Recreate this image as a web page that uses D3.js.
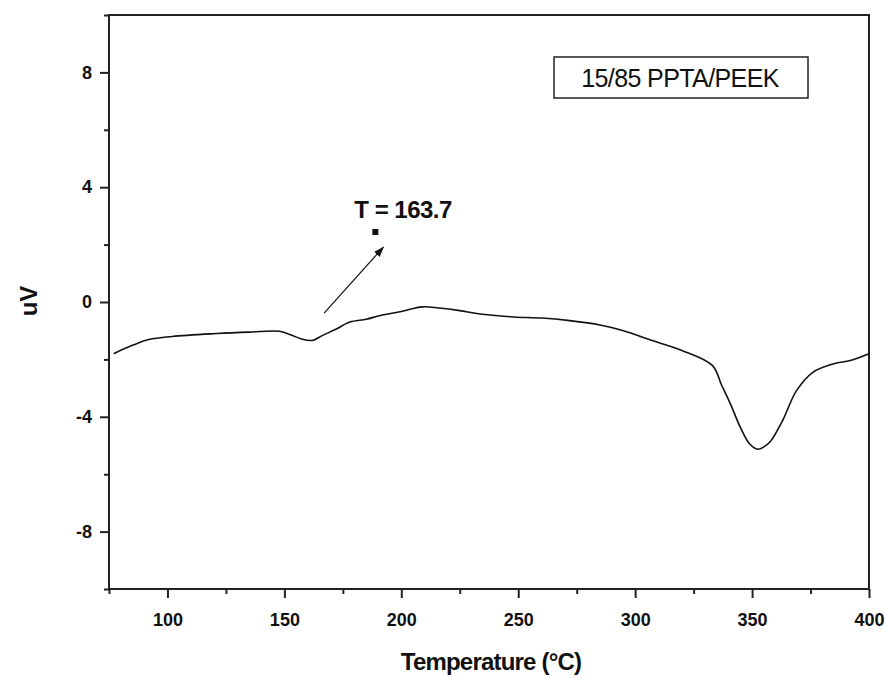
<!DOCTYPE html>
<html>
<head>
<meta charset="utf-8">
<script src="https://cdn.jsdelivr.net/npm/d3@7"></script>
<style>
  body { margin: 0; background: #fff; }
  svg { display: block; font-family: Arial, "Liberation Sans", sans-serif; }
</style>
</head>
<body>
<div id="chart"></div>
<script>
// DSC trace, 15/85 PPTA/PEEK
var temps = [77, 85, 92, 102, 121, 135, 148, 153, 157, 162, 166, 172, 178, 185, 191, 200, 209, 216, 225, 233, 248, 260, 272, 285, 295, 306, 320, 333, 337, 341, 345, 349, 352.5, 355, 358, 363, 369, 376, 385, 392, 400];
var uv = [-1.80, -1.51, -1.31, -1.20, -1.10, -1.05, -1.02, -1.15, -1.28, -1.34, -1.18, -0.95, -0.70, -0.60, -0.47, -0.33, -0.17, -0.21, -0.30, -0.41, -0.52, -0.56, -0.65, -0.80, -1.00, -1.31, -1.69, -2.21, -2.90, -3.60, -4.37, -4.95, -5.13, -5.05, -4.84, -4.14, -3.09, -2.45, -2.15, -2.04, -1.80];

var xMajorTicks = [100, 150, 200, 250, 300, 350, 400];
var xMinorTicks = [75, 125, 175, 225, 275, 325, 375];
var yMajorTicks = [8, 4, 0, -4, -8];
var yMinorTicks = [10, 6, 2, -2, -6, -10];

var legendText = "15/85 PPTA/PEEK";
var annotText = "T = 163.7";
var annotDot = [188.9, 2.44];
var annotArrow = [[167, -0.39], [192.3, 1.91]];

var svgWidth = 886;
var svgHeight = 678;
var margin = { top: 15, right: 17, bottom: 89, left: 109 };
var width = svgWidth - margin.left - margin.right;
var height = svgHeight - margin.top - margin.bottom;

var svg = d3.select("#chart")
    .append("svg")
    .attr("width", svgWidth)
    .attr("height", svgHeight);

var chartGroup = svg.append("g")
    .attr("transform", `translate(${margin.left}, ${margin.top})`);

var x = d3.scaleLinear().domain([75, 400]).range([0, width]);
var y = d3.scaleLinear().domain([-10, 10]).range([height, 0]);

// frame
chartGroup.append("rect")
    .attr("width", width)
    .attr("height", height)
    .attr("fill", "none")
    .attr("stroke", "#222")
    .attr("stroke-width", 2);

// axes
function styleAxis(g) {
    g.select(".domain").remove();
    g.selectAll(".tick line").attr("stroke", "#222").attr("stroke-width", 2);
    g.selectAll(".tick text")
        .attr("fill", "#111")
        .attr("font-weight", "bold")
        .attr("font-size", "18px");
}

chartGroup.append("g")
    .attr("transform", `translate(0, ${height})`)
    .call(d3.axisBottom(x).tickValues(xMajorTicks).tickSize(9).tickPadding(15).tickFormat(d => String(d)))
    .call(styleAxis);

chartGroup.append("g")
    .attr("transform", `translate(0, ${height})`)
    .call(d3.axisBottom(x).tickValues(xMinorTicks).tickSize(5).tickFormat(""))
    .call(styleAxis);

chartGroup.append("g")
    .call(d3.axisLeft(y).tickValues(yMajorTicks).tickSize(9).tickPadding(8).tickFormat(d => String(d)))
    .call(styleAxis);

chartGroup.append("g")
    .call(d3.axisLeft(y).tickValues(yMinorTicks).tickSize(5).tickFormat(""))
    .call(styleAxis);

// curve
var points = temps.map(function (t, i) { return [t, uv[i]]; });
var line = d3.line()
    .x(d => x(d[0]))
    .y(d => y(d[1]))
    .curve(d3.curveCatmullRom.alpha(0.5));

chartGroup.append("path")
    .datum(points)
    .attr("d", line)
    .attr("fill", "none")
    .attr("stroke", "#111")
    .attr("stroke-width", 1.6);

// annotation
svg.append("defs").append("marker")
    .attr("id", "arrow")
    .attr("viewBox", "0 0 10 10")
    .attr("refX", 9)
    .attr("refY", 5)
    .attr("markerWidth", 9)
    .attr("markerHeight", 9)
    .attr("orient", "auto")
    .append("path")
    .attr("d", "M0,1.5 L10,5 L0,8.5 Z")
    .attr("fill", "#111");

chartGroup.append("line")
    .attr("x1", x(annotArrow[0][0]))
    .attr("y1", y(annotArrow[0][1]))
    .attr("x2", x(annotArrow[1][0]))
    .attr("y2", y(annotArrow[1][1]))
    .attr("stroke", "#111")
    .attr("stroke-width", 1.2)
    .attr("marker-end", "url(#arrow)");

chartGroup.append("rect")
    .attr("x", x(annotDot[0]) - 3)
    .attr("y", y(annotDot[1]) - 3)
    .attr("width", 6)
    .attr("height", 6)
    .attr("fill", "#111");

chartGroup.append("text")
    .attr("x", x(179.9))
    .attr("y", y(2.92))
    .attr("font-size", "24px")
    .attr("font-weight", "bold")
    .attr("letter-spacing", "-0.5px")
    .attr("fill", "#111")
    .text(annotText);

// legend box
var legend = svg.append("g").attr("transform", "translate(554, 57)");
legend.append("rect")
    .attr("width", 254)
    .attr("height", 41)
    .attr("fill", "#fff")
    .attr("stroke", "#222")
    .attr("stroke-width", 1.5);
legend.append("text")
    .attr("x", 126)
    .attr("y", 30)
    .attr("text-anchor", "middle")
    .attr("font-size", "25px")
    .attr("letter-spacing", "-0.6px")
    .attr("fill", "#111")
    .text(legendText);

// axis titles
svg.append("text")
    .attr("transform", `translate(${margin.left + width / 2 + 2}, 670)`)
    .attr("text-anchor", "middle")
    .attr("font-size", "24px")
    .attr("font-weight", "bold")
    .attr("letter-spacing", "-0.8px")
    .attr("fill", "#111")
    .text("Temperature (°C)");

svg.append("text")
    .attr("transform", "translate(37, 301) rotate(-90)")
    .attr("text-anchor", "middle")
    .attr("font-size", "24px")
    .attr("font-weight", "bold")
    .attr("fill", "#111")
    .text("uV");
</script>
</body>
</html>
